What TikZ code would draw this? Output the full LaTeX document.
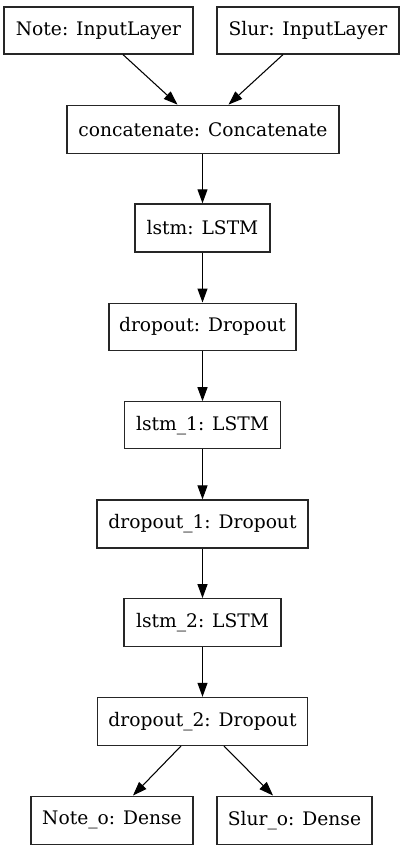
\documentclass[tikz,border=0pt]{standalone}
\usepackage{fontspec}
\setmainfont{DejaVu Serif}
\usetikzlibrary{arrows.meta}
\tikzset{
  layerbox/.style 2 args={draw=black!85, line width=0.9pt, fill=white, inner sep=0pt,
    minimum width=#1*0.75pt, minimum height=#2*0.75pt, font=\fontsize{14pt}{16pt}\selectfont},
  flow/.style={draw=black, line width=0.8pt, -{Triangle[length=10.5pt,width=7.5pt]}}
}
\begin{document}
\begin{tikzpicture}[x=0.75pt,y=-0.75pt]
\fill[white] (0,0) rectangle (404,851);
\useasboundingbox (0,0) rectangle (404,851);
\node[layerbox={189}{47}] (note) at (98.5,30.5) {Note: InputLayer};
\node[layerbox={182}{47}] (slur) at (308,30.5) {Slur: InputLayer};
\node[layerbox={272}{48}] (concat) at (203,129.2) {concatenate: Concatenate};
\node[layerbox={135}{48}] (lstm) at (202.5,227.9) {lstm: LSTM};
\node[layerbox={187}{47}] (drop) at (202.5,326.6) {dropout: Dropout};
\node[layerbox={156}{47}] (lstmA) at (202.5,425.3) {lstm\_1: LSTM};
\node[layerbox={211}{48}] (dropA) at (202.5,524) {dropout\_1: Dropout};
\node[layerbox={157}{48}] (lstmB) at (202.5,622.7) {lstm\_2: LSTM};
\node[layerbox={210}{48}] (dropB) at (202.5,721.4) {dropout\_2: Dropout};
\node[layerbox={162}{48}] (noteo) at (112,820.1) {Note\_o: Dense};
\node[layerbox={155}{48}] (sluro) at (294.5,820.1) {Slur\_o: Dense};
\draw[flow] ([xshift=24.5*0.75pt]note.south) -- ([xshift=-25.5*0.75pt]concat.north);
\draw[flow] ([xshift=-25*0.75pt]slur.south) -- ([xshift=25.5*0.75pt]concat.north);
\draw[flow] (concat.south -| lstm.south) -- (lstm.north);
\draw[flow] (lstm.south) -- (drop.north);
\draw[flow] (drop.south) -- (lstmA.north);
\draw[flow] (lstmA.south) -- (dropA.north);
\draw[flow] (dropA.south) -- (lstmB.north);
\draw[flow] (lstmB.south) -- (dropB.north);
\draw[flow] ([xshift=-21.5*0.75pt]dropB.south) -- ([xshift=21*0.75pt]noteo.north);
\draw[flow] ([xshift=21.5*0.75pt]dropB.south) -- ([xshift=-21.5*0.75pt]sluro.north);
\end{tikzpicture}
\end{document}
